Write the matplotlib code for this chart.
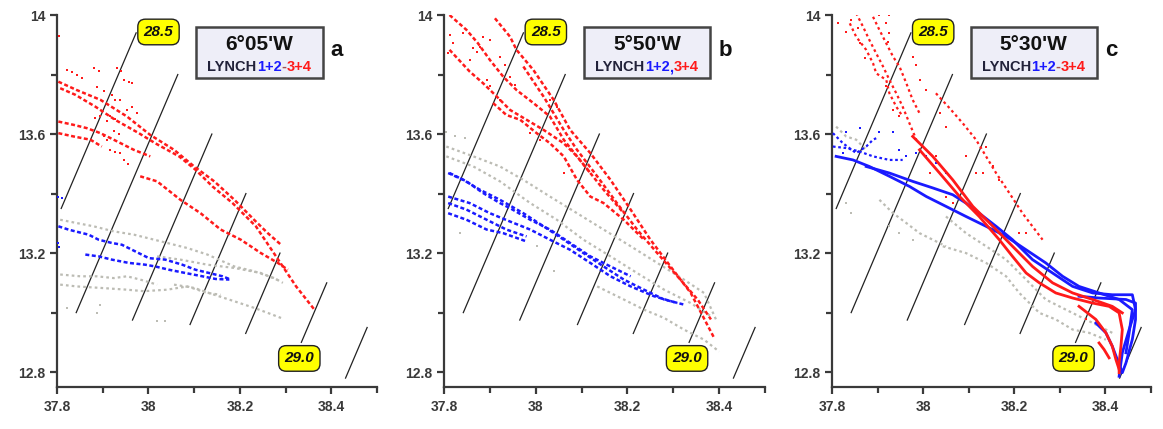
import matplotlib
matplotlib.use("Agg")
import matplotlib.pyplot as plt
from matplotlib.patches import Rectangle
from matplotlib.ticker import FixedLocator, FuncFormatter

plt.rcParams["font.family"] = ["Liberation Sans", "DejaVu Sans"]

# ---------------- isopycnals (linearised equation of state) ----------------
iso_levels = [28.5, 28.6, 28.7, 28.8, 28.9, 29.0, 29.1]
iso_tmin = [13.35, 13.00, 12.975, 12.96, 12.93, 12.90, 12.78]
iso_tmax = [13.94, 13.80, 13.60, 13.40, 13.20, 13.10, 12.95]
S_REF, T_REF, SIG_REF = 37.712, 13.0, 28.5   # reference point on sigma=28.5
BETA = 0.769        # d sigma / dS
ALPHA = 0.2136      # -d sigma / dT
iso_labels = ["28.5", "29.0"]

# ---------------- panel titles ----------------
titles = ["6°05'W", "5°50'W", "5°30'W"]
letters = ["a", "b", "c"]
sep_chars = ["-", ",", "-"]

# ---------------- Panel a ----------------
a_red_tracks = [
    ([37.807, 37.840, 37.884, 37.927, 37.979, 38.015, 38.067, 38.103, 38.140, 38.184, 38.235, 38.279, 38.323, 38.363],
     [13.754, 13.732, 13.692, 13.648, 13.603, 13.569, 13.525, 13.480, 13.424, 13.368, 13.290, 13.189, 13.088, 13.010]),
    ([37.803, 37.843, 37.895, 37.953, 38.004, 38.056, 38.100, 38.144, 38.188, 38.231, 38.261, 38.290],
     [13.776, 13.748, 13.715, 13.659, 13.597, 13.547, 13.491, 13.441, 13.379, 13.312, 13.267, 13.228]),
    ([37.982, 38.019, 38.070, 38.114, 38.158, 38.202, 38.246, 38.283, 38.305],
     [13.458, 13.441, 13.379, 13.334, 13.279, 13.245, 13.200, 13.167, 13.144]),
    ([37.803, 37.836, 37.873, 37.898], [13.603, 13.592, 13.581, 13.558]),
    ([37.803, 37.836, 37.865, 37.895, 37.924, 37.968, 38.004],
     [13.642, 13.631, 13.620, 13.603, 13.581, 13.547, 13.525]),
]
a_red_pts_S = [37.805, 37.821, 37.832, 37.843, 37.854, 37.880, 37.891, 37.931, 37.940, 37.947, 37.957,
               37.964, 37.887, 37.902, 37.920, 37.927, 37.938, 37.953, 37.964, 37.975, 37.884, 37.895,
               37.909, 37.916, 37.927, 37.916, 37.927, 37.938, 37.947, 37.955, 37.902, 37.909, 37.924, 37.935]
a_red_pts_T = [13.930, 13.815, 13.810, 13.799, 13.787, 13.821, 13.813, 13.821, 13.813, 13.780, 13.775,
               13.771, 13.757, 13.746, 13.732, 13.715, 13.713, 13.681, 13.690, 13.672, 13.653, 13.659,
               13.645, 13.659, 13.651, 13.547, 13.541, 13.536, 13.513, 13.500, 13.592, 13.581, 13.609, 13.601]
a_blue_tracks = [
    ([37.803, 37.825, 37.840, 37.869, 37.891, 37.920, 37.942, 38.001, 38.037, 38.074, 38.103, 38.133, 38.162, 38.180],
     [13.290, 13.279, 13.273, 13.262, 13.245, 13.234, 13.228, 13.183, 13.178, 13.161, 13.144, 13.133, 13.122, 13.111]),
    ([37.862, 37.891, 37.920, 37.957, 37.993, 38.015, 38.045, 38.081, 38.118, 38.147, 38.177],
     [13.195, 13.189, 13.178, 13.167, 13.161, 13.155, 13.144, 13.133, 13.122, 13.113, 13.111]),
]
a_blue_pts_S = [37.803, 37.810, 37.803, 37.805]
a_blue_pts_T = [13.390, 13.385, 13.234, 13.220]
a_gray_tracks = [
    ([37.807, 37.843, 37.880, 37.924, 37.968, 37.997, 38.041, 38.085, 38.129, 38.188, 38.231, 38.275, 38.294],
     [13.312, 13.301, 13.290, 13.273, 13.262, 13.251, 13.234, 13.217, 13.195, 13.155, 13.139, 13.116, 13.100]),
    ([38.019, 38.070, 38.129, 38.188, 38.246, 38.290], [13.189, 13.178, 13.161, 13.150, 13.133, 13.105]),
    ([37.807, 37.851, 37.887, 37.924, 37.953, 37.982, 38.019], [13.128, 13.122, 13.122, 13.116, 13.122, 13.111, 13.094]),
    ([37.807, 37.843, 37.895, 37.953, 37.990, 38.041, 38.085, 38.129, 38.158],
     [13.094, 13.088, 13.083, 13.077, 13.072, 13.077, 13.088, 13.066, 13.060]),
    ([38.056, 38.100, 38.144, 38.188, 38.231, 38.261, 38.290], [13.094, 13.083, 13.060, 13.038, 13.016, 12.999, 12.982]),
]
a_gray_pts_S = [37.821, 37.887, 38.019, 38.037, 37.895]
a_gray_pts_T = [13.016, 12.999, 12.971, 12.971, 13.027]

# ---------------- Panel b ----------------
b_red_tracks = [
    ([37.911, 37.944, 37.958, 37.995, 38.039, 38.075, 38.119, 38.163, 38.207, 38.250, 38.294, 38.338, 38.389],
     [13.989, 13.927, 13.883, 13.815, 13.715, 13.614, 13.536, 13.446, 13.346, 13.245, 13.155, 13.066, 12.915]),
    ([37.973, 38.017, 38.061, 38.090, 38.134, 38.177, 38.221, 38.265, 38.309, 38.353, 38.382],
     [13.827, 13.726, 13.614, 13.547, 13.458, 13.368, 13.279, 13.200, 13.122, 13.044, 12.977]),
    ([37.812, 37.849, 37.874, 37.900, 37.929, 37.958, 37.995, 38.031, 38.061, 38.090, 38.119],
     [14.000, 13.950, 13.905, 13.849, 13.793, 13.748, 13.704, 13.659, 13.581, 13.525, 13.469]),
    ([37.812, 37.856, 37.885, 37.915, 37.944, 37.980, 38.017, 38.061, 38.090, 38.119, 38.148, 38.192],
     [13.883, 13.810, 13.771, 13.726, 13.681, 13.648, 13.614, 13.569, 13.525, 13.469, 13.413, 13.334]),
    ([37.907, 37.936, 37.966, 38.002, 38.031, 38.061, 38.090, 38.119, 38.148, 38.192, 38.236],
     [13.704, 13.664, 13.648, 13.603, 13.569, 13.525, 13.446, 13.390, 13.368, 13.312, 13.245]),
]
b_red_pts_S = [37.809, 37.820, 37.812, 37.842, 37.871, 37.864, 37.878, 37.893, 37.900, 37.922, 38.061,
               37.922, 37.933, 37.944, 37.955, 37.885, 37.900, 37.856, 37.988, 38.009, 38.031, 38.046]
b_red_pts_T = [13.871, 13.905, 13.933, 13.938, 13.877, 13.888, 13.894, 13.782, 13.760, 13.715, 13.469,
               13.860, 13.832, 13.793, 13.765, 13.927, 13.916, 13.849, 13.603, 13.581, 13.715, 13.692]
b_blue_tracks = [
    ([37.809, 37.842, 37.878, 37.922, 37.973, 38.017, 38.061, 38.104, 38.148, 38.192, 38.236, 38.280, 38.323],
     [13.469, 13.446, 13.413, 13.379, 13.334, 13.290, 13.245, 13.200, 13.155, 13.111, 13.077, 13.044, 13.027]),
    ([37.809, 37.856, 37.900, 37.944, 37.988, 38.031, 38.075, 38.119, 38.163, 38.207, 38.258, 38.309],
     [13.390, 13.368, 13.334, 13.306, 13.279, 13.245, 13.211, 13.167, 13.122, 13.088, 13.055, 13.032]),
    ([37.809, 37.849, 37.893, 37.936, 37.980], [13.368, 13.346, 13.312, 13.279, 13.256]),
    ([37.809, 37.849, 37.893, 37.929, 37.980], [13.334, 13.312, 13.279, 13.267, 13.239]),
    ([37.812, 37.849, 37.885, 37.922, 37.944, 37.988, 38.031, 38.075, 38.119, 38.163, 38.207],
     [13.469, 13.441, 13.402, 13.368, 13.351, 13.312, 13.279, 13.234, 13.189, 13.155, 13.122]),
]
b_gray_tracks = [
    ([37.805, 37.864, 37.922, 37.973, 38.031, 38.090, 38.148, 38.207, 38.265, 38.323, 38.367, 38.393],
     [13.558, 13.525, 13.491, 13.446, 13.390, 13.334, 13.279, 13.223, 13.167, 13.111, 13.066, 12.977]),
    ([37.805, 37.864, 37.922, 37.988, 38.046, 38.104, 38.163, 38.221, 38.280, 38.338, 38.382],
     [13.525, 13.491, 13.441, 13.368, 13.312, 13.245, 13.189, 13.133, 13.077, 13.032, 12.988]),
    ([38.134, 38.192, 38.236, 38.280, 38.323, 38.367, 38.400],
     [13.088, 13.044, 13.010, 12.982, 12.943, 12.909, 12.869]),
]
b_gray_pts_S = [37.805, 37.823, 37.845, 38.039, 37.834, 38.002]
b_gray_pts_T = [13.608, 13.592, 13.586, 13.139, 13.267, 13.223]

# ---------------- Panel c ----------------
c_red_tracks = [
    ([37.977, 38.021, 38.065, 38.109, 38.153, 38.196, 38.240, 38.284, 38.328, 38.372, 38.415, 38.437],
     [13.592, 13.525, 13.446, 13.357, 13.290, 13.223, 13.155, 13.100, 13.066, 13.044, 13.021, 12.999]),
    ([37.992, 38.036, 38.080, 38.123, 38.167, 38.196, 38.226, 38.255, 38.291, 38.328, 38.372, 38.408,
      38.430, 38.437, 38.434, 38.430, 38.430],
     [13.547, 13.469, 13.390, 13.323, 13.245, 13.189, 13.133, 13.100, 13.066, 13.049, 13.032, 13.021,
      12.999, 12.943, 12.887, 12.831, 12.798]),
    ([38.342, 38.379, 38.401, 38.415, 38.423, 38.430], [13.021, 12.977, 12.932, 12.887, 12.842, 12.809]),
    ([38.386, 38.397, 38.408], [12.898, 12.876, 12.848]),
]
c_red_dash_tracks = [
    ([38.028, 38.058, 38.087, 38.116, 38.138, 38.160, 38.189, 38.218, 38.262],
     [13.737, 13.687, 13.636, 13.581, 13.525, 13.469, 13.402, 13.334, 13.245]),
    ([37.853, 37.868, 37.882, 37.897, 37.912, 37.926, 37.941, 37.955, 37.970, 37.985],
     [14.006, 13.961, 13.916, 13.871, 13.827, 13.782, 13.737, 13.692, 13.636, 13.581]),
    ([37.890, 37.904, 37.919, 37.934, 37.948, 37.963, 37.977, 37.992],
     [13.994, 13.950, 13.905, 13.860, 13.827, 13.771, 13.715, 13.670]),
    ([37.839, 37.853, 37.875, 37.890, 37.897, 37.919, 37.926, 37.941, 37.955],
     [13.972, 13.927, 13.883, 13.838, 13.804, 13.782, 13.737, 13.692, 13.659]),
]
c_red_pts_S = [37.813, 37.831, 37.842, 37.857, 37.861, 37.872, 37.904, 37.919, 37.926, 37.923, 37.926,
               37.919, 37.934, 37.948, 37.977, 37.985, 37.992, 38.007, 38.036, 38.050, 38.094, 38.116,
               38.131, 38.138, 38.153, 38.167, 38.211, 38.226, 38.014, 38.028, 38.050, 38.065, 38.357]
c_red_pts_T = [13.972, 13.944, 13.983, 13.955, 13.905, 13.855, 14.000, 13.972, 13.938, 13.911, 14.000,
               13.760, 13.681, 13.659, 13.860, 13.832, 13.782, 13.748, 13.670, 13.625, 13.525, 13.469,
               13.469, 13.558, 13.491, 13.446, 13.267, 13.267, 13.469, 13.525, 13.390, 13.368, 12.977]
c_blue_tracks = [
    ([37.875, 37.926, 37.977, 38.021, 38.065, 38.094, 38.123, 38.160, 38.196, 38.240, 38.284, 38.328,
      38.372, 38.415, 38.459, 38.466, 38.452, 38.437, 38.430],
     [13.491, 13.469, 13.441, 13.419, 13.396, 13.368, 13.334, 13.290, 13.245, 13.178, 13.133, 13.088,
      13.066, 13.060, 13.060, 13.010, 12.943, 12.865, 12.786]),
    ([37.809, 37.846, 37.882, 37.926, 37.970, 38.007, 38.050, 38.094, 38.138, 38.182, 38.226, 38.269,
      38.306, 38.342, 38.386, 38.430, 38.459, 38.452, 38.445],
     [13.525, 13.513, 13.491, 13.458, 13.424, 13.390, 13.357, 13.323, 13.290, 13.256, 13.211, 13.167,
      13.122, 13.088, 13.066, 13.044, 13.010, 12.932, 12.865]),
    ([38.342, 38.386, 38.445, 38.466, 38.466, 38.459, 38.445, 38.437, 38.415, 38.401, 38.379],
     [13.055, 13.049, 13.044, 13.032, 12.977, 12.910, 12.831, 12.798, 12.887, 12.932, 12.965]),
]
c_blue_dash_tracks = [
    ([37.802, 37.824, 37.853, 37.875, 37.890, 37.897], [13.603, 13.569, 13.536, 13.558, 13.581, 13.586]),
    ([37.802, 37.831, 37.861, 37.890, 37.926, 37.955], [13.558, 13.553, 13.541, 13.525, 13.513, 13.513]),
]
c_blue_pts_S = [37.904, 37.934, 37.948, 37.963, 37.985, 38.007, 38.028, 38.050, 37.831, 37.861, 37.824]
c_blue_pts_T = [13.608, 13.608, 13.547, 13.525, 13.536, 13.525, 13.502, 13.469, 13.608, 13.620, 13.536]
c_gray_tracks = [
    ([38.050, 38.094, 38.138, 38.182, 38.226, 38.269, 38.313, 38.342, 38.379, 38.415],
     [13.323, 13.267, 13.223, 13.178, 13.111, 13.044, 13.010, 12.988, 12.960, 12.932]),
    ([38.043, 38.094, 38.138, 38.182, 38.211, 38.255, 38.291, 38.328, 38.364, 38.401],
     [13.223, 13.200, 13.167, 13.122, 13.066, 12.999, 12.977, 12.943, 12.932, 12.909]),
    ([37.809, 37.831, 37.853, 37.875], [13.625, 13.592, 13.581, 13.547]),
    ([37.904, 37.934, 37.963, 37.992, 38.021, 38.050], [13.379, 13.334, 13.301, 13.267, 13.245, 13.223]),
]
c_gray_pts_S = [37.831, 37.842, 37.926, 37.948, 37.977]
c_gray_pts_T = [13.368, 13.334, 13.290, 13.267, 13.245]

RED = "#ff1a1a"
BLUE = "#1a1aff"
GRAY = "#bcbcb4"
AXC = "#3a3a3a"

fig = plt.figure(figsize=(11.63, 4.29), dpi=100)
positions = [
    [0.0490, 0.0979, 0.2752, 0.8671],
    [0.3818, 0.0979, 0.2760, 0.8671],
    [0.7154, 0.0979, 0.2743, 0.8671],
]

panels = [
    dict(red=a_red_tracks, red_dash=[], red_pts=(a_red_pts_S, a_red_pts_T),
         blue=a_blue_tracks, blue_dash=[], blue_pts=(a_blue_pts_S, a_blue_pts_T),
         gray=a_gray_tracks, gray_pts=(a_gray_pts_S, a_gray_pts_T), solid=False),
    dict(red=b_red_tracks, red_dash=[], red_pts=(b_red_pts_S, b_red_pts_T),
         blue=b_blue_tracks, blue_dash=[], blue_pts=([], []),
         gray=b_gray_tracks, gray_pts=(b_gray_pts_S, b_gray_pts_T), solid=False),
    dict(red=c_red_tracks, red_dash=c_red_dash_tracks, red_pts=(c_red_pts_S, c_red_pts_T),
         blue=c_blue_tracks, blue_dash=c_blue_dash_tracks, blue_pts=(c_blue_pts_S, c_blue_pts_T),
         gray=c_gray_tracks, gray_pts=(c_gray_pts_S, c_gray_pts_T), solid=True),
]


def iso_S(sig, T):
    return S_REF + (sig - SIG_REF) / BETA + ALPHA / BETA * (T - T_REF)


def dotted(ax, tr, color, lw=1.8, z=3, pattern=(1.6, 1.0)):
    ax.plot(tr[0], tr[1], color=color, lw=lw, ls=(0, pattern), zorder=z)


fig.canvas.draw()
renderer = fig.canvas.get_renderer()

for i, (ax_pos, p) in enumerate(zip(positions, panels)):
    ax = fig.add_axes(ax_pos)
    ax.set_xlim(37.8, 38.5)
    ax.set_ylim(12.75, 14.0)
    for sp in ["top", "right"]:
        ax.spines[sp].set_visible(False)
    for sp in ["left", "bottom"]:
        ax.spines[sp].set_color(AXC)
        ax.spines[sp].set_linewidth(1.6)
    ax.xaxis.set_major_locator(FixedLocator([37.8, 38.0, 38.2, 38.4]))
    ax.xaxis.set_minor_locator(FixedLocator([37.9, 38.1, 38.3, 38.5]))
    ax.yaxis.set_major_locator(FixedLocator([12.8, 13.2, 13.6, 14.0]))
    ax.yaxis.set_minor_locator(FixedLocator([13.0, 13.4, 13.8]))
    fmt = FuncFormatter(lambda v, pos: ("%.1f" % v).rstrip("0").rstrip("."))
    ax.xaxis.set_major_formatter(fmt)
    ax.yaxis.set_major_formatter(fmt)
    ax.tick_params(which="both", direction="out", color=AXC, width=1.6)
    ax.tick_params(which="major", length=5)
    ax.tick_params(which="minor", length=4)
    ax.tick_params(axis="both", labelsize=10, labelcolor=AXC)
    for lab in ax.get_xticklabels() + ax.get_yticklabels():
        lab.set_fontweight("bold")
    ax.tick_params(axis="x", pad=4)

    # isopycnals
    for sig, t0, t1 in zip(iso_levels, iso_tmin, iso_tmax):
        ax.plot([iso_S(sig, t0), iso_S(sig, t1)], [t0, t1], color="#222222", lw=0.9, zorder=1)

    # gray
    for tr in p["gray"]:
        dotted(ax, tr, GRAY, lw=1.6, z=2, pattern=(1.2, 1.4))
    ax.scatter(p["gray_pts"][0], p["gray_pts"][1], s=2.5, color=GRAY, marker="s", lw=0, zorder=2)
    # blue
    for tr in p["blue"]:
        if p["solid"]:
            ax.plot(tr[0], tr[1], color=BLUE, lw=2.0, zorder=3)
        else:
            dotted(ax, tr, BLUE)
    for tr in p["blue_dash"]:
        dotted(ax, tr, BLUE, lw=1.6, pattern=(1.2, 1.2))
    ax.scatter(p["blue_pts"][0], p["blue_pts"][1], s=2.5, color=BLUE, marker="s", lw=0, zorder=3)
    # red
    for tr in p["red"]:
        if p["solid"]:
            ax.plot(tr[0], tr[1], color=RED, lw=2.0, zorder=4)
        else:
            dotted(ax, tr, RED, z=4)
    for tr in p["red_dash"]:
        dotted(ax, tr, RED, lw=1.6, z=4, pattern=(1.2, 1.4))
    ax.scatter(p["red_pts"][0], p["red_pts"][1], s=2.5, color=RED, marker="s", lw=0, zorder=4)

    # isopycnal labels
    for lab, (sx, ty) in zip(iso_labels, [(38.022, 13.943), (38.330, 12.846)]):
        ax.text(sx, ty, lab, fontsize=11, style="italic", weight="bold", color="#111111",
                ha="center", va="center", zorder=6,
                bbox=dict(boxstyle="round,pad=0.38,rounding_size=0.5", fc="#ffff00", ec="#222222", lw=1.0))

    # title box
    x0, x1 = 0.435, 0.830
    y0, y1 = 0.832, 0.968
    ax.add_patch(Rectangle((x0, y0), x1 - x0, y1 - y0, transform=ax.transAxes, fc="#eeeef8",
                           ec="#444444", lw=1.8, zorder=7))
    xc = (x0 + x1) / 2
    ax.text(xc, 0.922, titles[i], transform=ax.transAxes, ha="center", va="center", fontsize=15,
            weight="bold", color="#111111", zorder=8)
    parts = [("LYNCH", "#22223a"), ("1+2", BLUE), (sep_chars[i], "#a05050" if sep_chars[i] == "-" else BLUE),
             ("3+4", RED)]
    axw = ax.get_window_extent(renderer).width
    tobjs, widths = [], []
    for s, c in parts:
        t = ax.text(0, 0.860, s, transform=ax.transAxes, ha="left", va="center", fontsize=10.5,
                    weight="bold", color=c, zorder=8)
        widths.append(t.get_window_extent(renderer).width / axw)
        tobjs.append(t)
    xs = xc - sum(widths) / 2
    for t, w in zip(tobjs, widths):
        t.set_x(xs)
        xs += w
    ax.text(0.875, 0.905, letters[i], transform=ax.transAxes, ha="center", va="center", fontsize=16,
            weight="bold", color="#111111", zorder=8)

fig.savefig("out.png", dpi=100)
